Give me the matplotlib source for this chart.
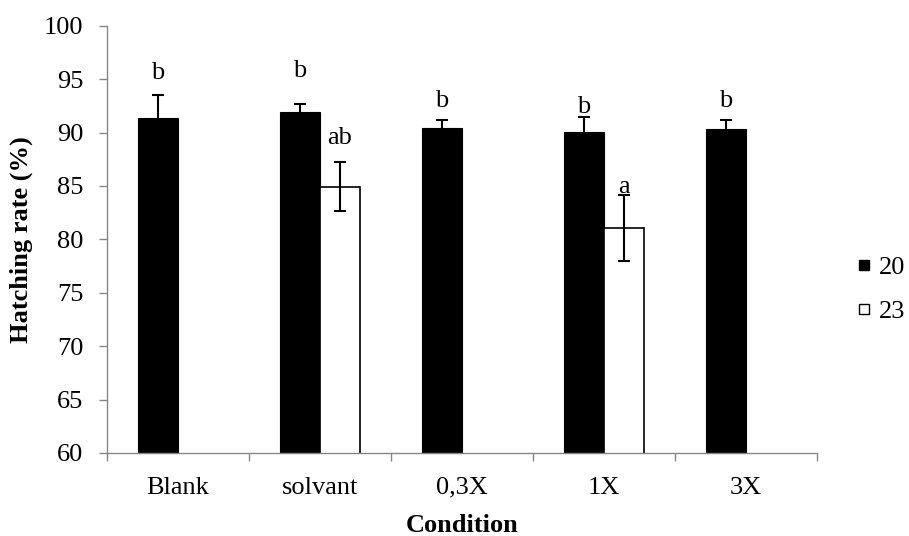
import numpy as np
import matplotlib.pyplot as plt
from matplotlib.lines import Line2D

plt.rcParams['font.family'] = ['Liberation Serif', 'DejaVu Serif']

conditions = ['Blank', 'solvant', '0,3X', '1X', '3X']
rate_20 = [91.35, 91.95, 90.4, 90.1, 90.3]
err_20 = [2.2, 0.7, 0.8, 1.4, 0.85]
rate_23 = [np.nan, 84.95, np.nan, 81.05, np.nan]
err_23 = [np.nan, 2.3, np.nan, 3.1, np.nan]

# significance letters above the bars
letters_20 = ['b', 'b', 'b', 'b', 'b']
letters_20_y = [95.6, 95.8, 93.0, 92.4, 93.0]
letters_23 = [None, 'ab', None, 'a', None]
letters_23_y = [None, 89.5, None, 84.9, None]

fs = 19

fig = plt.figure(figsize=(9.09, 5.36), dpi=100)
ax = fig.add_axes([0.1177, 0.1549, 0.781, 0.797])

x = np.arange(len(conditions))
width = 0.28
ek = dict(ecolor='black', elinewidth=1.5, capsize=4, capthick=1.5)
ax.bar(x - width / 2, rate_20, width, yerr=err_20, color='black', edgecolor='black',
       linewidth=0.8, error_kw=ek, zorder=2)
ax.bar(x + width / 2, rate_23, width, yerr=err_23, color='white', edgecolor='black',
       linewidth=1.2, error_kw=ek, zorder=2)

for i in range(len(conditions)):
    ax.text(x[i] - width / 2, letters_20_y[i], letters_20[i], ha='center', va='center', fontsize=fs)
    if letters_23[i]:
        ax.text(x[i] + width / 2, letters_23_y[i], letters_23[i], ha='center', va='center', fontsize=fs)

ax.set_ylim(60, 100)
ax.set_xlim(-0.5, len(conditions) - 0.5)
ax.set_yticks(np.arange(60, 101, 5))
ax.set_xticks(x)
ax.set_xticklabels(conditions)
ax.set_xticks(np.arange(-0.5, len(conditions), 1), minor=True)
ax.tick_params(axis='x', which='major', length=0, pad=17, labelsize=fs)
ax.tick_params(axis='x', which='minor', length=6, color='#868686', width=1)
ax.tick_params(axis='y', length=6, color='#868686', width=1, labelsize=fs, pad=11)

for s in ['top', 'right']:
    ax.spines[s].set_visible(False)
for s in ['left', 'bottom']:
    ax.spines[s].set_color('#868686')
    ax.spines[s].set_linewidth(1)

ax.set_xlabel('Condition', fontsize=fs, fontweight='bold', labelpad=11)
ax.set_ylabel('Hatching rate (%)', fontsize=fs, fontweight='bold', labelpad=8)

handles = [Line2D([], [], marker='s', linestyle='none', markersize=6.5, markerfacecolor='black',
                  markeredgecolor='black'),
           Line2D([], [], marker='s', linestyle='none', markersize=6.5, markerfacecolor='white',
                  markeredgecolor='black', markeredgewidth=1)]
fig.legend(handles, ['20', '23'], loc='center left', bbox_to_anchor=(0.932, 0.46), frameon=False,
           fontsize=fs, handlelength=0.5, handletextpad=0.3, labelspacing=0.8, borderaxespad=0)

fig.savefig('out.png', dpi=100)
